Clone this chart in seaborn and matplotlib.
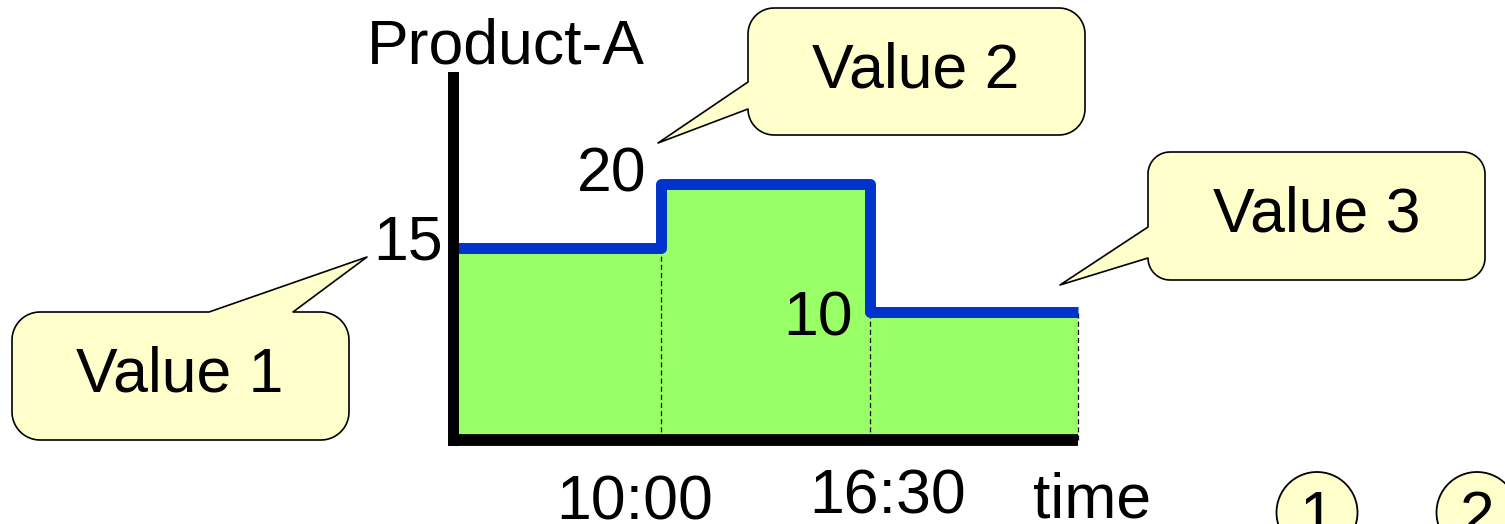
import numpy as np
import matplotlib
matplotlib.use("Agg")
import matplotlib.pyplot as plt
from matplotlib.patches import Polygon, Circle
import seaborn as sns

# data
step_x = [0, 1, 2, 3]
product_a = [15, 20, 10, 10]
value_labels = ["15", "20", "10"]
time_ticks = [1, 2]
time_labels = ["10:00", "16:30"]
callout_texts = ["Value 1", "Value 2", "Value 3"]
marker_texts = ["1", "2"]

sns.set_style("white")
plt.rcParams["font.family"] = ["Liberation Sans", "DejaVu Sans"]
plt.rcParams["text.color"] = "black"

W, H = 1505, 524
fig = plt.figure(figsize=(W / 100, H / 100), dpi=100)

GREEN = "#99FF66"
BLUE = "#0033CC"
CREAM = "#FFFFCC"
FS = 45

# main axes (pixel layout of the reference)
ax = fig.add_axes([453 / W, 84 / H, 625 / W, 362.5 / H])
ax.set_xlim(0, 3)
ax.set_ylim(0, 362.5 / 12.8)

ax.fill_between(step_x, product_a, step="post", color=GREEN, lw=0, zorder=1)
drops = [min(product_a[i - 1], product_a[i]) for i in range(1, len(product_a))]
ax.vlines(step_x[1:], 0, drops, colors="black", linestyles=(0, (4, 2.5)),
          linewidth=0.9, zorder=2, clip_on=False)
sns.lineplot(x=step_x, y=product_a, drawstyle="steps-post", color=BLUE,
             linewidth=7.9, solid_joinstyle="round", solid_capstyle="butt",
             ax=ax, zorder=3, clip_on=False)

for s in ["top", "right"]:
    ax.spines[s].set_visible(False)
ax.spines["left"].set_linewidth(7.9)
ax.spines["left"].set_capstyle("projecting")
ax.spines["bottom"].set_linewidth(8.5)
ax.spines["bottom"].set_capstyle("butt")
for s in ["left", "bottom"]:
    ax.spines[s].set_color("black")
    ax.spines[s].set_zorder(4)
ax.set_xticks([])
ax.set_yticks([])
ax.set_xlabel("")
ax.set_ylabel("")

# value labels next to the steps
label_offsets = [(-10, -12), (-15, -8), (-17, -23)]
for i, (lab, (dx, dy)) in enumerate(zip(value_labels, label_offsets)):
    ax.annotate(lab, xy=(step_x[i], product_a[i]), xytext=(dx, dy),
                textcoords="offset pixels", ha="right", va="baseline",
                fontsize=FS, annotation_clip=False)

# time labels under the axis
time_offsets = [(-27, -79), (18, -74)]
for t, lab, (dx, dy) in zip(time_ticks, time_labels, time_offsets):
    ax.annotate(lab, xy=(t, 0), xytext=(dx, dy), textcoords="offset pixels",
                ha="center", va="baseline", fontsize=FS, annotation_clip=False)
ax.annotate("time", xy=(3, 0), xytext=(-45, -77), textcoords="offset pixels",
            ha="left", va="baseline", fontsize=FS, annotation_clip=False)

# overlay in pixel coordinates for the callouts
ov = fig.add_axes([0, 0, 1, 1])
ov.set_xlim(0, W)
ov.set_ylim(H, 0)
ov.axis("off")


def arc(cx, cy, r, a0, a1, n=14):
    t = np.radians(np.linspace(a0, a1, n))
    return list(zip(cx + r * np.cos(t), cy + r * np.sin(t)))


def callout(x0, y0, x1, y1, r, side, a, b, tip):
    pts = []
    pts += arc(x0 + r, y0 + r, r, 180, 270)
    if side == "top":
        pts += [(a, y0), tip, (b, y0)]
    pts += arc(x1 - r, y0 + r, r, 270, 360)
    pts += arc(x1 - r, y1 - r, r, 0, 90)
    pts += arc(x0 + r, y1 - r, r, 90, 180)
    if side == "left":
        pts += [(x0, b), tip, (x0, a)]
    ov.add_patch(Polygon(pts, closed=True, fc=CREAM, ec="black", lw=1.2,
                         joinstyle="round"))


callout(12, 312, 349, 440, 28, "top", 209, 293, (367, 257))
callout(748, 8, 1085, 135, 26, "left", 82, 109, (658, 143))
callout(1148, 152, 1485, 280, 22, "left", 227, 258, (1060, 285))

ov.text(180, 391, callout_texts[0], fontsize=FS, ha="center", va="baseline")
ov.text(916, 87, callout_texts[1], fontsize=FS, ha="center", va="baseline")
ov.text(1317, 231, callout_texts[2], fontsize=FS, ha="center", va="baseline")

ov.text(367, 63, "Product-A", fontsize=FS, ha="left", va="baseline")

for cx, lab in zip([1317, 1477], marker_texts):
    ov.add_patch(Circle((cx, 512.5), 40.5, fc=CREAM, ec="black", lw=1.3))
    ov.text(cx, 535, lab, fontsize=FS, ha="center", va="baseline")

fig.savefig("out.png", dpi=100)
